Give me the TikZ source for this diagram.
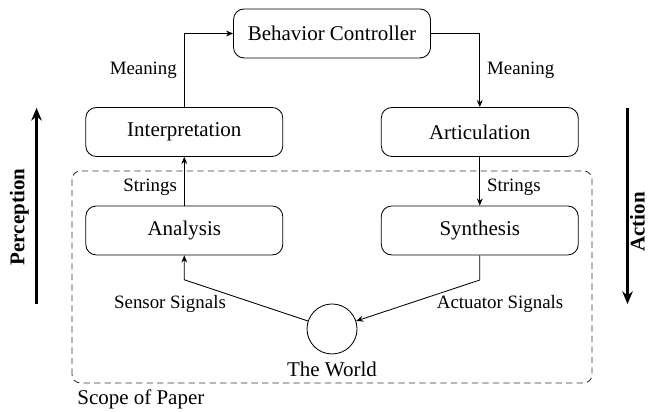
\documentclass[tikz,border=0pt]{standalone}
\usepackage{fontspec}
\setmainfont{Liberation Serif}
\usetikzlibrary{arrows.meta}

\tikzset{
	stage/.style={draw, rounded corners=5pt, minimum width=3.3cm, minimum height=0.82cm, inner sep=0pt},
	flow/.style={-{Stealth[length=3.4pt, width=2.8pt]}},
	tag/.style={font=\small},
	sweep/.style={line width=1.4pt, -{Stealth[length=6pt, width=5pt]}},
	heading/.style={rotate=90, font=\bfseries, inner sep=0pt}
}

\begin{document}
\begin{tikzpicture}[x=1.65cm, y=1.65cm]
			%%%%% START %%%%%
			\useasboundingbox (-3.371, -0.833) rectangle (3.218, 3.340);
			
			% scope of the paper
			\draw[black!80, dash pattern=on 3pt off 2pt, rounded corners=4pt] (-2.64, -0.548) rectangle (2.64, 1.604);
			\node[anchor=west, inner sep=0pt] (scope) at (-2.59, -0.71) {Scope of Paper};
			
			% stages
			\node[stage] (behavior) at (0, 3) {Behavior Controller};
			\node[stage] (interp) at (-1.5, 2) {Interpretation};
			\node[stage] (artic) at (1.5, 2) {Articulation};
			\node[stage] (analysis) at (-1.5, 1) {Analysis};
			\node[stage] (synth) at (1.5, 1) {Synthesis};
			\node[draw, circle, minimum size=0.838cm, inner sep=0pt, label=below:The World] (world) at (0, 0) {};
			
			\coordinate (sensorbend) at (-1.5, 0.5);
			\coordinate (actbend) at (1.5, 0.497);
			
			% connectors
			\draw[flow] (interp.north) |- (behavior.west) node[tag, pos=0.25, left] (meanleft) {Meaning};
			\draw[flow] (behavior.east) -| (artic.north) node[tag, pos=0.75, right] (meanright) {Meaning};
			\draw[flow] (analysis.north) -- (interp.south) node[tag, pos=0.38, left] (strleft) {Strings};
			\draw[flow] (artic.south) -- (synth.north) node[tag, pos=0.62, right] (strright) {Strings};
			\draw[flow] (world) -- (sensorbend) -- (analysis.south);
			\draw[flow] (synth.south) -- (actbend) -- (world);
			\node[tag] (sensor) at (-1.645, 0.254) {Sensor Signals};
			\node[tag] (actuator) at (1.706, 0.254) {Actuator Signals};
			
			% perception and action
			\coordinate (pbot) at (-3, 0.254);
			\coordinate (ptop) at (-3, 2.244);
			\coordinate (atop) at (3, 2.244);
			\coordinate (abot) at (3, 0.254);
			\draw[sweep] (pbot) -- (ptop);
			\draw[sweep] (atop) -- (abot);
			\node[heading, anchor=south] (perception) at (-3.075, 1.137) {Perception};
			\node[heading, anchor=south] (action) at (3.18, 1.086) {Action};
			
			%%%%% END %%%%%
\end{tikzpicture}
\end{document}
